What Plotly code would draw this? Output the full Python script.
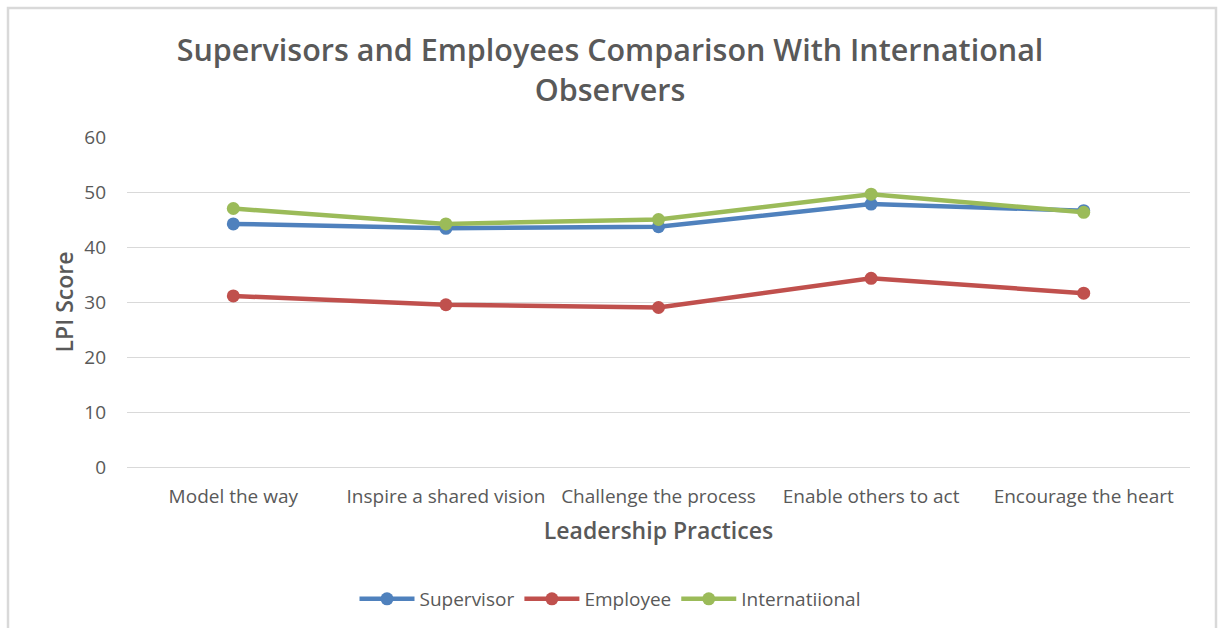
import plotly.graph_objects as go

# Leadership practices (LPI dimensions)
practices = ["Model the way", "Inspire a shared vision", "Challenge the process",
             "Enable others to act", "Encourage the heart"]

supervisor = [44.2, 43.4, 43.7, 47.8, 46.6]
employee = [31.1, 29.5, 29.0, 34.3, 31.6]
international = [47.0, 44.2, 45.0, 49.6, 46.3]

series_names = ["Supervisor", "Employee", "Internatiional"]
series_colors = ["#4F81BD", "#C0504D", "#9BBB59"]

TEXT = "#595959"
GRID = "#D9D9D9"
FONT = "Open Sans"

fig = go.Figure()
for name, vals, color in zip(series_names, [supervisor, employee, international], series_colors):
    fig.add_trace(go.Scatter(
        x=practices, y=vals, name=name, mode="lines+markers",
        line=dict(color=color, width=4.5),
        marker=dict(color=color, size=13),
    ))

# Plot area geometry in pixels
W, H = 1220, 628
L, R, T, B = 127, 30, 137, 161
pw, ph = W - L - R, H - T - B

def px_x(p):
    return (p - L) / pw

def px_y(p):
    return (H - B - p) / ph

fig.update_layout(
    width=W, height=H,
    margin=dict(l=L, r=R, t=T, b=B),
    paper_bgcolor="white", plot_bgcolor="white",
    font=dict(family=FONT, color=TEXT),
    title=dict(
        text="Supervisors and Employees Comparison With International<br>Observers",
        x=0.5, xref="container", xanchor="center", y=1 - 61 / H, yanchor="middle",
        font=dict(size=30.5, color=TEXT, family=FONT, weight=600),
    ),
    xaxis=dict(
        type="category", range=[-0.5, 4.5], showgrid=False, zeroline=False,
        showline=False, ticks="", tickfont=dict(size=19, color=TEXT),
        ticklabelstandoff=16,
        title=dict(text="Leadership Practices", standoff=14,
                   font=dict(size=23, color=TEXT, family=FONT, weight=600)),
    ),
    yaxis=dict(
        range=[0, 60], dtick=10, showgrid=True, gridcolor=GRID, gridwidth=1.3,
        zeroline=True, zerolinecolor=GRID, zerolinewidth=1.3, showline=False,
        ticks="", tickfont=dict(size=19, color=TEXT), ticklabelstandoff=20,
        title=dict(text="LPI Score", standoff=4,
                   font=dict(size=23, color=TEXT, family=FONT, weight=600)),
    ),
    legend=dict(
        orientation="h", x=0.5, xanchor="center", xref="container",
        y=1 - 599 / H, yref="container", yanchor="middle",
        font=dict(size=19, color=TEXT), itemwidth=55,
    ),
    shapes=[dict(
        type="rect", xref="paper", yref="paper",
        x0=px_x(8), x1=px_x(1216), y0=px_y(650), y1=px_y(8),
        line=dict(color=GRID, width=2.5), fillcolor="rgba(0,0,0,0)", layer="below",
    )],
)

fig.write_html("out.html")
